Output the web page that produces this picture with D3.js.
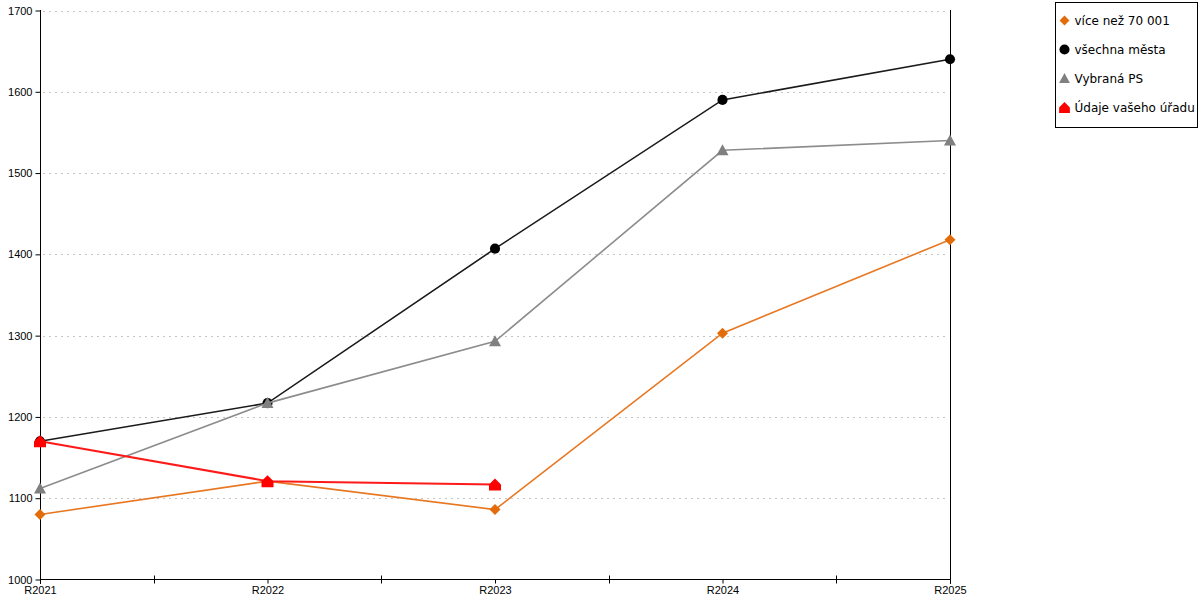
<!DOCTYPE html>
<html>
<head>
<meta charset="utf-8">
<script src="https://cdn.jsdelivr.net/npm/d3@7"></script>
<style>
  body { margin: 0; background: #fff; }
  svg { font-family: "DejaVu Sans", Verdana, sans-serif; }
  .tick text { fill: #000; }
</style>
</head>
<body>
<svg id="chart" width="1200" height="600"></svg>
<script>
const categories = ['R2021', 'R2022', 'R2023', 'R2024', 'R2025'];
const yTicks = [1000, 1100, 1200, 1300, 1400, 1500, 1600, 1700];

const viceNez70001 = [1080, 1121, 1086, 1303, 1418];
const vsechnaMesta = [1170, 1217, 1407, 1590, 1640];
const vybranaPS = [1112, 1217, 1293, 1528, 1540];
const udajeUradu = [1170, 1121, 1117];

const series = [
  { name: 'všechna města', values: vsechnaMesta, color: '#000000', lineColor: '#1a1a1a', marker: 'circle', width: 1.6 },
  { name: 'Vybraná PS', values: vybranaPS, color: '#808080', lineColor: '#8c8c8c', marker: 'triangle', width: 1.6 },
  { name: 'více než 70 001', values: viceNez70001, color: '#e36c0a', lineColor: '#e87722', marker: 'diamond', width: 1.6 },
  { name: 'Údaje vašeho úřadu', values: udajeUradu, color: '#ff0000', lineColor: '#ff1a1a', marker: 'house', width: 2 }
];
const legendOrder = ['více než 70 001', 'všechna města', 'Vybraná PS', 'Údaje vašeho úřadu'];

const svg = d3.select('#chart');
const plot = { left: 40, right: 950, top: 10, bottom: 579 };

const x = d3.scalePoint().domain(categories).range([plot.left, plot.right]);
const y = d3.scaleLinear().domain([1000, 1700]).range([plot.bottom + 0.5, plot.top + 0.5]);

// gridlines
svg.append('g')
  .selectAll('line')
  .data(yTicks.slice(1))
  .enter().append('line')
  .attr('x1', plot.left + 3).attr('x2', plot.right - 3)
  .attr('y1', d => Math.round(y(d)) + 0.5).attr('y2', d => Math.round(y(d)) + 0.5)
  .attr('stroke', '#c4c4c4')
  .attr('stroke-dasharray', '2,4');

// y axis
const yAxisG = svg.append('g')
  .attr('transform', `translate(${plot.left + 0.5},0)`)
  .call(d3.axisLeft(y).tickValues(yTicks).tickSize(5).tickPadding(3).tickFormat(d3.format('d')));
yAxisG.select('.domain').remove();
yAxisG.append('line').attr('y1', plot.top).attr('y2', plot.bottom + 5).attr('stroke', '#000');
yAxisG.selectAll('.tick text').style('font-size', '11px');

// right border line
svg.append('line')
  .attr('x1', plot.right + 0.5).attr('x2', plot.right + 0.5)
  .attr('y1', plot.top).attr('y2', plot.bottom + 5)
  .attr('stroke', '#000');

// x axis
const xAxisG = svg.append('g')
  .attr('transform', `translate(0,${plot.bottom + 0.5})`)
  .call(d3.axisBottom(x).tickSize(4).tickPadding(3));
xAxisG.select('.domain').remove();
xAxisG.append('line').attr('x1', plot.left).attr('x2', plot.right + 1).attr('stroke', '#000');
xAxisG.selectAll('.tick text').style('font-size', '11px');

// minor ticks between categories
const mids = d3.pairs(categories).map(p => (x(p[0]) + x(p[1])) / 2);
xAxisG.selectAll('.mid')
  .data(mids)
  .enter().append('line')
  .attr('class', 'mid')
  .attr('x1', d => Math.round(d) + 0.5).attr('x2', d => Math.round(d) + 0.5)
  .attr('y1', -4).attr('y2', 4)
  .attr('stroke', '#000');

function markerPath(type) {
  if (type === 'circle') return d3.symbol(d3.symbolCircle, 80)();
  if (type === 'triangle') return 'M0,-6L6,5L-6,5Z';
  if (type === 'diamond') return 'M0,-5.5L5.5,0L0,5.5L-5.5,0Z';
  return 'M-6,6L6,6L6,0L0,-6L-6,0Z';
}

const line = d3.line()
  .x((d, i) => x(categories[i]))
  .y(d => y(d));

series.forEach(s => {
  const g = svg.append('g');
  g.append('path')
    .attr('d', line(s.values))
    .attr('fill', 'none')
    .attr('stroke', s.lineColor)
    .attr('stroke-width', s.width);
  g.selectAll('path.m')
    .data(s.values)
    .enter().append('path')
    .attr('class', 'm')
    .attr('d', markerPath(s.marker))
    .attr('transform', (d, i) => `translate(${x(categories[i])},${y(d)})`)
    .attr('fill', s.color);
});

// legend
const legend = svg.append('g').attr('transform', 'translate(1055.5,2.5)');
legend.append('rect')
  .attr('width', 142).attr('height', 125)
  .attr('fill', '#fff').attr('stroke', '#000');
legendOrder.forEach((name, i) => {
  const s = series.find(d => d.name === name);
  const row = legend.append('g').attr('transform', `translate(9,${18 + i * 29})`);
  row.append('path')
    .attr('d', markerPath(s.marker))
    .attr('transform', s.marker === 'circle' ? 'scale(1)' : 'scale(0.9)')
    .attr('fill', s.color);
  row.append('text')
    .attr('x', 10).attr('y', 4)
    .style('font-size', '12px')
    .text(name);
});
</script>
</body>
</html>
